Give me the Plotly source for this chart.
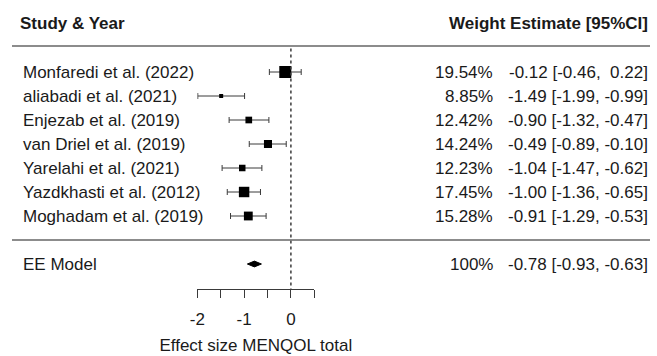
import plotly.graph_objects as go

# Study-level results (effect size MENQOL total)
studies = [
    "Monfaredi et al. (2022)",
    "aliabadi et al. (2021)",
    "Enjezab et al. (2019)",
    "van Driel et al. (2019)",
    "Yarelahi et al. (2021)",
    "Yazdkhasti et al. (2012)",
    "Moghadam et al. (2019)",
]
weights = [19.54, 8.85, 12.42, 14.24, 12.23, 17.45, 15.28]
estimates = [-0.12, -1.49, -0.90, -0.49, -1.04, -1.00, -0.91]
ci_low = [-0.46, -1.99, -1.32, -0.89, -1.47, -1.36, -1.29]
ci_high = [0.22, -0.99, -0.47, -0.10, -0.62, -0.65, -0.53]

# Pooled (equal-effects) model
model_label = "EE Model"
model_weight = 100
model_est = -0.78
model_low = -0.93
model_high = -0.63

tick_vals = [-2, -1.5, -1, -0.5, 0, 0.5]
tick_text = ["-2", "", "-1", "", "0", ""]
x_title = "Effect size MENQOL total"

W, H = 657, 356
FONT = "Liberation Sans, Arial, sans-serif"
TXT = "#1a1a1a"
LINE = "#3a3a3a"
FS = 17

n = len(studies)
rows = list(range(n, 0, -1))          # study rows n..1, top to bottom
model_row = -1

# square size scaled between 0.5x and 1.5x of a base size by weight
wmin, wmax = min(weights), max(weights)
base = 8.0
sizes = [base * (0.5 + (w - wmin) / (wmax - wmin)) for w in weights]

fig = go.Figure()

# confidence intervals with end caps
fig.add_trace(go.Scatter(
    x=estimates, y=rows, mode="markers",
    marker=dict(symbol="square", size=sizes, color="black", opacity=1, line=dict(width=0)),
    error_x=dict(type="data", symmetric=False,
                 array=[h - e for h, e in zip(ci_high, estimates)],
                 arrayminus=[e - l for e, l in zip(estimates, ci_low)],
                 color=LINE, thickness=1, width=3),
    cliponaxis=False, hoverinfo="skip", showlegend=False,
))

# pooled-estimate diamond
dh = 0.12
fig.add_trace(go.Scatter(
    x=[model_low, model_est, model_high, model_est, model_low],
    y=[model_row, model_row + dh, model_row, model_row - dh, model_row],
    mode="lines", fill="toself", fillcolor="black",
    line=dict(color="black", width=1),
    hoverinfo="skip", showlegend=False,
))

# reference line at zero
fig.add_shape(type="line", xref="x", yref="y", x0=0, x1=0, y0=7.98, y1=-2.05,
              line=dict(color=LINE, width=1.5, dash="dot"))

# horizontal rules under the header and above the pooled row
for yy in (8.08, 0.0):
    fig.add_shape(type="line", xref="paper", yref="y",
                  x0=12 / W, x1=650 / W, y0=yy, y1=yy,
                  line=dict(color="#666666", width=1.5))

ann = []
def txt(x, y, s, anchor, bold=False, size=FS):
    ann.append(dict(x=x / W, xref="paper", y=y, yref="y", text=f"<b>{s}</b>" if bold else s,
                    showarrow=False, xanchor=anchor, yanchor="middle",
                    font=dict(family=FONT, size=size, color=TXT)))

txt(18, 9.02, "Study &amp; Year", "left", bold=True)
txt(650, 9.02, "Weight Estimate [95%CI]", "right", bold=True)

for name, w, e, lo, hi, r in zip(studies, weights, estimates, ci_low, ci_high, rows):
    txt(21, r, name, "left")
    txt(495, r, f"{w:.2f}%", "right")
    hi_s = f"{hi:.2f}" if hi < 0 else f"&nbsp;{hi:.2f}"
    txt(650, r, f"{e:.2f} [{lo:.2f}, {hi_s}]", "right")

txt(21, model_row, model_label, "left")
txt(495, model_row, f"{model_weight}%", "right")
txt(650, model_row, f"{model_est:.2f} [{model_low:.2f}, {model_high:.2f}]", "right")

# axis: x domain limited to the tick span, y domain ends at the axis line
px0, px1 = 197.3, 314.3
axis_py = 289
y_top = 1 + (216 - 0) / 24
y_bot = 1 + (216 - axis_py) / 24

fig.update_layout(
    width=W, height=H, margin=dict(l=0, r=0, t=0, b=0, pad=0, autoexpand=False),
    paper_bgcolor="white", plot_bgcolor="white",
    annotations=ann,
    xaxis=dict(domain=[px0 / W, px1 / W], range=[tick_vals[0], tick_vals[-1]],
               tickvals=tick_vals, ticktext=tick_text, ticks="outside", ticklen=8,
               tickwidth=1, tickcolor=LINE, showline=True, linecolor=LINE, linewidth=1,
               showgrid=False, zeroline=False, ticklabelstandoff=7, automargin=False,
               tickfont=dict(family=FONT, size=FS, color=TXT),
               title=dict(text=x_title, standoff=10,
                          font=dict(family=FONT, size=FS, color=TXT))),
    yaxis=dict(domain=[1 - axis_py / H, 1], range=[y_bot, y_top], visible=False,
               showgrid=False, zeroline=False, automargin=False),
)

fig.write_html("out.html")
